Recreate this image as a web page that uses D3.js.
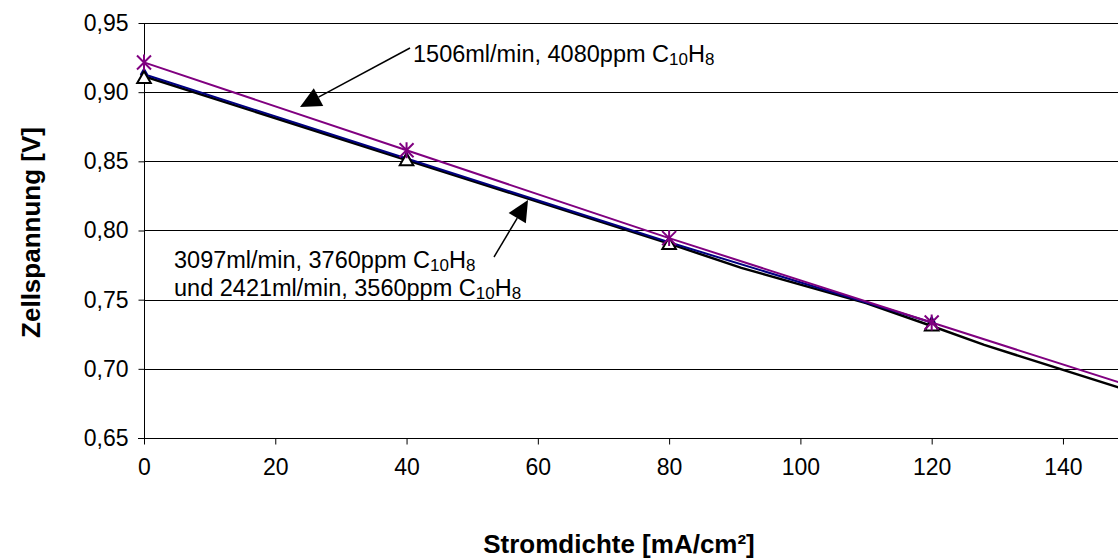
<!DOCTYPE html>
<html>
<head>
<meta charset="utf-8">
<script src="https://cdn.jsdelivr.net/npm/d3@7"></script>
<style>
  html, body { margin: 0; padding: 0; background: #fff; }
  svg { display: block; font-family: Arial, "Liberation Sans", sans-serif; }
</style>
</head>
<body>
<svg id="chart" width="1118" height="558"></svg>
<script>
// Current density [mA/cm²] vs. cell voltage [V]
const xTicks = [0, 20, 40, 60, 80, 100, 120, 140];
const yTicks = [0.65, 0.70, 0.75, 0.80, 0.85, 0.90, 0.95];

// 1506 ml/min, 4080 ppm naphthalene (purple, asterisks at measured points)
const purpleX = [0, 40, 80, 120, 150];
const purpleY = [0.9215, 0.858, 0.7945, 0.7335, 0.688];
const purpleMarkX = [0, 40, 80, 120];

// 2421 ml/min, 3560 ppm (navy, diamond markers)
const blueX = [0, 40, 80, 120];
const blueY = [0.913, 0.852, 0.7915, 0.7335];

// 3097 ml/min, 3760 ppm (black curve)
const blackX = [0, 40, 80, 91, 110, 120, 128, 150];
const blackY = [0.9115, 0.851, 0.7905, 0.773, 0.7475, 0.731, 0.7173, 0.6843];

// open triangles on the black curve
const triX = [0, 40, 80, 120];
const triY = [0.9095, 0.8500, 0.7895, 0.7305];

const svg = d3.select("#chart");
const W = 1118, H = 558;

const x = d3.scaleLinear().domain([0, 150]).range([144, 1128.6]);
const y = d3.scaleLinear().domain([0.65, 0.95]).range([438, 23]);

const de = d3.formatLocale({decimal: ",", thousands: ".", grouping: [3], currency: ["", " €"]});
const fmtY = de.format(".2f");

// horizontal gridlines
svg.append("g")
  .selectAll("line")
  .data(yTicks.filter(v => v > 0.65))
  .join("line")
  .attr("x1", x(0)).attr("x2", W)
  .attr("y1", d => Math.round(y(d)) + 0.5).attr("y2", d => Math.round(y(d)) + 0.5)
  .attr("stroke", "#000").attr("stroke-width", 1);

// y axis
const yAxis = d3.axisLeft(y).tickValues(yTicks).tickFormat(fmtY).tickSize(6).tickPadding(10);
const gy = svg.append("g").attr("transform", `translate(${Math.round(x(0)) + 0.5},0)`).call(yAxis);
gy.select(".domain").attr("stroke", "#000").attr("d", `M-0,${y(0.95)}V${y(0.65) + 6}`);
gy.selectAll(".tick line").attr("stroke", "#000");
gy.selectAll(".tick text").attr("font-size", 23).attr("fill", "#000").attr("font-family", "Arial, 'Liberation Sans', sans-serif");

// x axis
const xAxis = d3.axisBottom(x).tickValues(xTicks).tickFormat(d3.format("d")).tickSize(6).tickPadding(14);
const gx = svg.append("g").attr("transform", `translate(0,${Math.round(y(0.65)) + 0.5})`).call(xAxis);
gx.select(".domain").attr("stroke", "#000").attr("d", `M${x(0) - 6},0H${W}`);
gx.selectAll(".tick line").attr("stroke", "#000");
gx.selectAll(".tick text").attr("font-size", 23).attr("fill", "#000").attr("font-family", "Arial, 'Liberation Sans', sans-serif");

// axis titles
svg.append("text")
  .attr("x", 619).attr("y", 553)
  .attr("text-anchor", "middle")
  .attr("font-size", 26).attr("font-weight", "bold")
  .text("Stromdichte [mA/cm²]");

svg.append("text")
  .attr("transform", `translate(40,${y(0.80) + 2}) rotate(-90)`)
  .attr("text-anchor", "middle")
  .attr("font-size", 26).attr("font-weight", "bold")
  .text("Zellspannung [V]");

const line = d3.line().x(d => x(d[0])).y(d => y(d[1]));

// series lines
svg.append("path")
  .datum(d3.zip(blackX, blackY))
  .attr("d", line).attr("fill", "none").attr("stroke", "#000").attr("stroke-width", 2.5);

svg.append("path")
  .datum(d3.zip(blueX, blueY))
  .attr("d", line).attr("fill", "none").attr("stroke", "#000080").attr("stroke-width", 2);

// navy diamonds
svg.append("g").selectAll("path")
  .data(d3.zip(blueX, blueY))
  .join("path")
  .attr("transform", d => `translate(${x(d[0])},${y(d[1])})`)
  .attr("d", d3.symbol(d3.symbolDiamond, 60))
  .attr("fill", "#000080");

// open triangles
svg.append("g").selectAll("path")
  .data(d3.zip(triX, triY))
  .join("path")
  .attr("transform", d => `translate(${x(d[0])},${y(d[1])})`)
  .attr("d", d3.symbol(d3.symbolTriangle, 80))
  .attr("fill", "#fff").attr("stroke", "#000").attr("stroke-width", 2);

svg.append("path")
  .datum(d3.zip(purpleX, purpleY))
  .attr("d", line).attr("fill", "none").attr("stroke", "#800080").attr("stroke-width", 2);

// purple asterisks
const star = svg.append("g").selectAll("g")
  .data(d3.zip(purpleX, purpleY).filter(d => purpleMarkX.includes(d[0])))
  .join("g")
  .attr("transform", d => `translate(${x(d[0])},${y(d[1])})`);
star.append("path")
  .attr("d", "M-7,-7L7,7M-7,7L7,-7M0,-8V8")
  .attr("stroke", "#800080").attr("stroke-width", 2).attr("fill", "none");

// annotation arrows
function arrow(x1, y1, x2, y2) {
  const a = Math.atan2(y2 - y1, x2 - x1);
  const L = 21, Wd = 10;
  const bx = x2 - L * Math.cos(a), by = y2 - L * Math.sin(a);
  svg.append("line")
    .attr("x1", x1).attr("y1", y1).attr("x2", bx).attr("y2", by)
    .attr("stroke", "#000").attr("stroke-width", 1.5);
  svg.append("path")
    .attr("d", `M${x2},${y2}L${bx + Wd * Math.sin(a)},${by - Wd * Math.cos(a)}L${bx - Wd * Math.sin(a)},${by + Wd * Math.cos(a)}Z`)
    .attr("fill", "#000");
}
arrow(410, 48, 300, 107);
arrow(494, 257, 528, 200);

function label(xp, yp, parts) {
  const t = svg.append("text").attr("x", xp).attr("y", yp).attr("font-size", 23.5).attr("fill", "#000");
  parts.forEach(p => {
    if (p.sub) {
      t.append("tspan").attr("font-size", 17).attr("dy", 3).text(p.t);
    } else {
      t.append("tspan").attr("dy", p.back ? -3 : 0).text(p.t);
    }
  });
}
label(413, 62, [{t: "1506ml/min, 4080ppm C"}, {t: "10", sub: true}, {t: "H", back: true}, {t: "8", sub: true}]);
label(174, 268, [{t: "3097ml/min, 3760ppm C"}, {t: "10", sub: true}, {t: "H", back: true}, {t: "8", sub: true}]);
label(174, 296, [{t: "und 2421ml/min, 3560ppm C"}, {t: "10", sub: true}, {t: "H", back: true}, {t: "8", sub: true}]);
</script>
</body>
</html>
